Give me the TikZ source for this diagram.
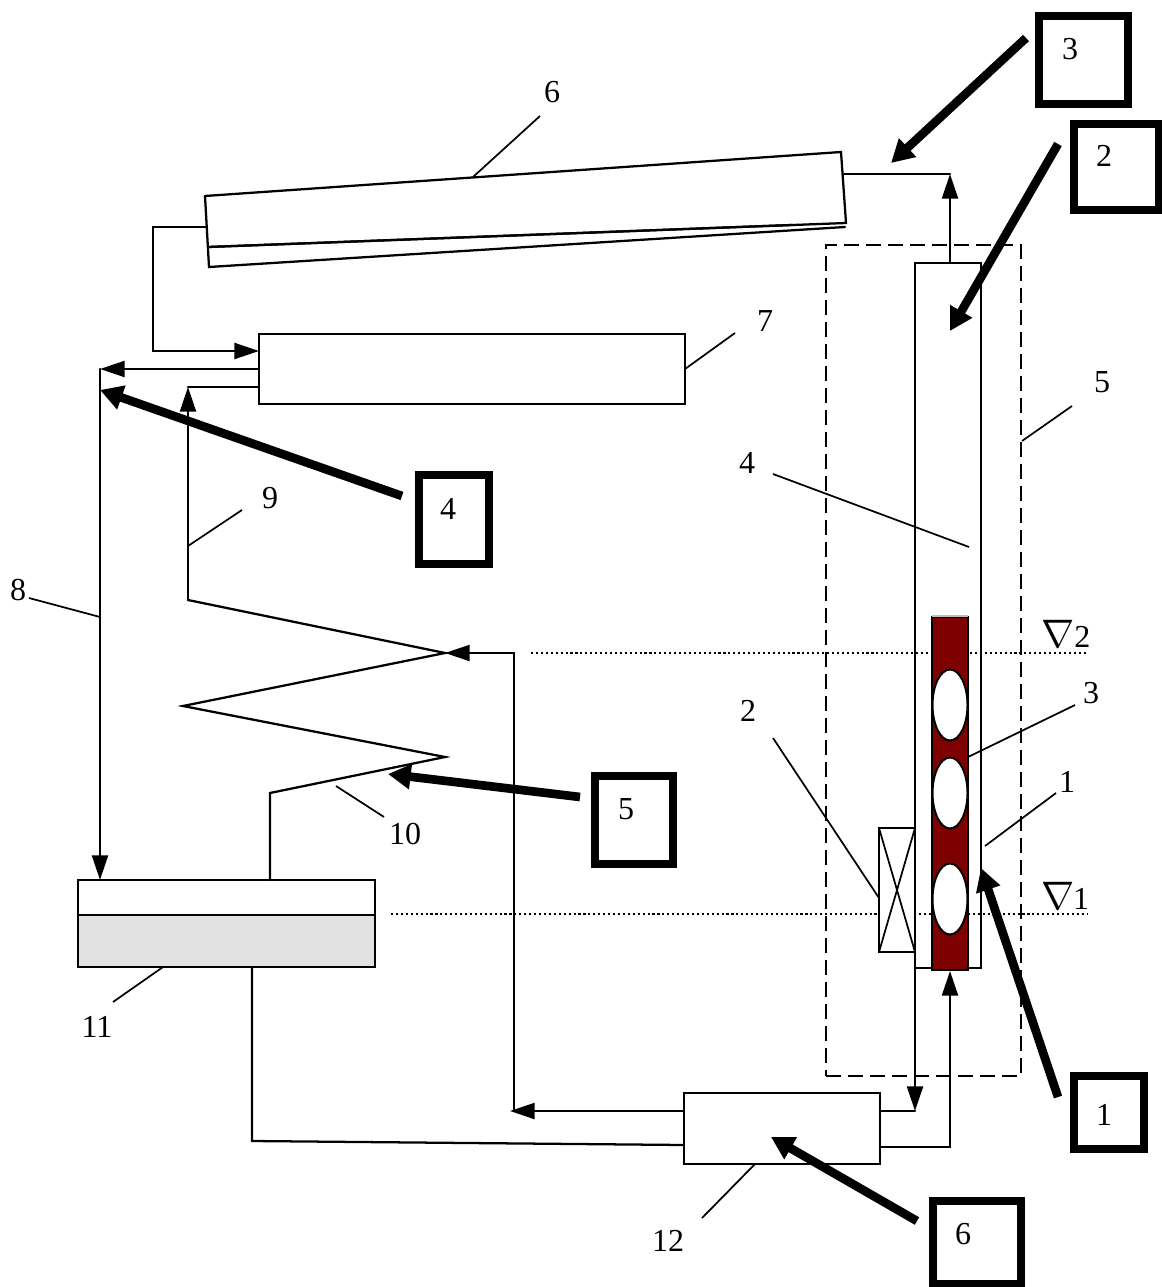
\documentclass[tikz,border=0pt]{standalone}
\usepackage{fontspec}
\usepackage{graphicx}
\setmainfont{Liberation Serif}
\usetikzlibrary{arrows.meta,shapes.geometric}
\def\u{0.75pt}
\definecolor{rodred}{HTML}{7F0000}
\definecolor{tankgrey}{HTML}{E2E2E2}
\tikzset{
  ln/.style={line width=1.7pt, line cap=round, line join=miter},
  leader/.style={line width=1.3pt},
  flow/.style={ln, -{Triangle[length=18.5pt,width=12pt]}},
  bigarrow/.style={line width=6.5pt, -{Triangle[length=17pt,width=18pt]}},
  numbox/.style={draw, line width=6pt, fill=white, minimum width=#1*\u, inner sep=0pt},
  unit/.style n args={2}{draw, ln, fill=white, minimum width=#1*\u, minimum height=#2*\u, inner sep=0pt, outer sep=0pt},
  lab/.style={font=\fontsize{24}{28}\selectfont, inner sep=0pt},
  hole/.style={draw, line width=1.5pt, fill=white, ellipse, minimum width=35*\u, minimum height=71*\u, inner sep=0pt},
  levelline/.style={line width=1.2pt, dash pattern=on 1.6pt off 2.1pt}
}
\begin{document}
\begin{tikzpicture}[x=0.75pt,y=-0.75pt]
\useasboundingbox (0,0) rectangle (1161,1287);
\fill[white] (0,0) rectangle (1161,1287);

% level lines
\coordinate (l2a) at (531,653); \coordinate (l2b) at (1088,653);
\coordinate (l1a) at (391,914); \coordinate (l1b) at (1088,914);
\draw[levelline] (l2a) -- (l2b);
\draw[levelline] (l1a) -- (l1b);

% collector 6
\coordinate (c1) at (205,196); \coordinate (c2) at (841,152);
\coordinate (c3) at (846,223); \coordinate (c4) at (209,267);
\coordinate (c5) at (208,247); \coordinate (c6) at (845,227);
\coordinate (c7) at (792,225);
\draw[ln] (c1) -- (c2) -- (c3) -- (c5);
\draw[ln] (c5) -- (c7);
\draw[ln] (c1) -- (c4) -- (c6);

% units
\node[unit={426}{70}] (b7) at (472,369) {};
\node[unit={196}{71}] (b12) at (782,1128.5) {};
\node[draw, ln, fill=tankgrey, minimum width=297*\u, minimum height=87*\u, inner sep=0pt, outer sep=0pt] (b11) at (226.5,923.5) {};
\fill[white] (b11.north west) rectangle (375,915);
\draw[ln] (b11.north west) rectangle (b11.south east);
\coordinate (t1) at (78,915); \coordinate (t2) at (375,915);
\draw[ln] (t1) -- (t2);

% dashed housing
\node[draw, line width=1.5pt, dash pattern=on 11pt off 5.5pt, minimum width=195*\u, minimum height=831*\u, inner sep=0pt, outer sep=0pt] (b5) at (923.5,660.5) {};

% tube 1
\node[draw, ln, minimum width=66*\u, minimum height=705*\u, inner sep=0pt, outer sep=0pt] (b1) at (948,615.5) {};
% fuel 3
\node[draw=black, line width=1pt, fill=rodred, minimum width=36*\u, minimum height=353*\u, inner sep=0pt, outer sep=0pt] (b3) at (950,793.5) {};
\coordinate (r1) at (932,616); \coordinate (r2) at (968,616);
\draw[line width=1pt, gray!50] (r1) -- (r2);
\node[hole] (h1) at (950,705) {};
\node[hole] (h2) at (950,793) {};
\node[hole] (h3) at (950,899) {};

% coil 2
\node[unit={36}{124}] (b2) at (897,890) {};
\draw[leader] (b2.north west) -- (b2.south east);
\draw[leader] (b2.north east) -- (b2.south west);

% piping
\coordinate (p1) at (844,174); \coordinate (p2) at (950,174); \coordinate (p3) at (950,263);
\draw[ln] (p1) -- (p2);
\draw[flow] (p3) -- (p2);
\coordinate (p4) at (206,227); \coordinate (p5) at (153,227); \coordinate (p6) at (153,351); \coordinate (p7) at (259,351);
\draw[flow] (p4) -- (p5) -- (p6) -- (p7);
\coordinate (p8) at (259,369); \coordinate (p9) at (100,369);
\draw[flow] (p8) -- (p9);
\coordinate (p10) at (259,387); \coordinate (p11) at (188,387); \coordinate (p12) at (188,600);
\draw[ln] (p10) -- (p11);
\draw[flow] (p12) -- (p11);
\coordinate (p13) at (100,880);
\draw[flow] (p9) -- (p13);
% zigzag 10
\coordinate (z1) at (445,653); \coordinate (z2) at (183,706); \coordinate (z3) at (445,757);
\coordinate (z4) at (270,793); \coordinate (z5) at (270,880);
\draw[ln] (p12) -- (z1) -- (z2) -- (z3) -- (z4) -- (z5);
% return line
\coordinate (q1) at (684,1111); \coordinate (q2) at (510,1111); \coordinate (q3) at (514,1111); \coordinate (q4) at (514,653);
\draw[flow] (q1) -- (q2);
\draw[ln] (q3) -- (q4);
\draw[flow] (q4) -- (z1);
% tank to pump
\coordinate (w1) at (252,967); \coordinate (w2) at (252,1141); \coordinate (w3) at (684,1145);
\draw[ln] (w1) -- (w2) -- (w3);
% pump to tube
\coordinate (e1) at (880,1111); \coordinate (e2) at (915,1111); \coordinate (e3) at (915,968);
\draw[ln] (e1) -- (e2);
\draw[flow] (e3) -- (e2);
\coordinate (e4) at (880,1147); \coordinate (e5) at (950,1147); \coordinate (e6) at (950,971);
\draw[flow] (e4) -- (e5) -- (e6);

% number boxes and thick arrows
\node[numbox=89, minimum height=88*\u] (n3) at (1083.5,60) {};
\node[lab] at (1070,49) {3};
\node[numbox=85, minimum height=86*\u] (n2) at (1116.5,167) {};
\node[lab] at (1104,156) {2};
\node[numbox=70, minimum height=89*\u] (n4) at (454,519.5) {};
\node[lab] at (448,509) {4};
\node[numbox=78, minimum height=88*\u] (n5) at (634,820) {};
\node[lab] at (626,809) {5};
\node[numbox=70, minimum height=73*\u] (n1) at (1109,1112.5) {};
\node[lab] at (1104,1115) {1};
\node[numbox=88, minimum height=83*\u] (n6) at (977,1242) {};
\node[lab] at (963,1234) {6};

\coordinate (s3) at (1026,38); \coordinate (a3) at (891,163);
\coordinate (s2) at (1058,144); \coordinate (a2) at (950,331);
\coordinate (s4) at (402,496); \coordinate (a4) at (100,390);
\coordinate (s5) at (580,797); \coordinate (a5) at (388,774);
\coordinate (s1) at (1058,1097); \coordinate (a1) at (981,868);
\coordinate (s6) at (917,1221); \coordinate (a6) at (771,1137);
\draw[bigarrow] (s3) -- (a3);
\draw[bigarrow] (s2) -- (a2);
\draw[bigarrow] (s4) -- (a4);
\draw[bigarrow] (s5) -- (a5);
\draw[bigarrow] (s1) -- (a1);
\draw[bigarrow] (s6) -- (a6);

% labels and leaders
\node[lab] (L6) at (552,92) {6};
\coordinate (d6a) at (540,116); \coordinate (d6b) at (473,177); \draw[leader] (d6a) -- (d6b);
\node[lab] (L7) at (765,321) {7};
\coordinate (d7a) at (735,333); \coordinate (d7b) at (685,369); \draw[leader] (d7a) -- (d7b);
\node[lab] (L5) at (1102,382) {5};
\coordinate (d5a) at (1072,406); \coordinate (d5b) at (1022,441); \draw[leader] (d5a) -- (d5b);
\node[lab] (L4) at (747,463) {4};
\coordinate (d4a) at (773,474); \coordinate (d4b) at (969,547); \draw[leader] (d4a) -- (d4b);
\node[lab] (L9) at (270,498) {9};
\coordinate (d9a) at (242,510); \coordinate (d9b) at (188,546); \draw[leader] (d9a) -- (d9b);
\node[lab] (L8) at (18,590) {8};
\coordinate (d8a) at (29,598); \coordinate (d8b) at (100,617); \draw[leader] (d8a) -- (d8b);
\node[lab] (L3) at (1091,693) {3};
\coordinate (d3a) at (1075,705); \coordinate (d3b) at (968,757); \draw[leader] (d3a) -- (d3b);
\node[lab] (L1) at (1067,782) {1};
\coordinate (d1a) at (1056,793); \coordinate (d1b) at (985,846); \draw[leader] (d1a) -- (d1b);
\node[lab] (L10) at (405,834) {10};
\coordinate (d10a) at (384,817); \coordinate (d10b) at (336,786); \draw[leader] (d10a) -- (d10b);
\node[lab] (L11) at (97,1027) {11};
\coordinate (d11a) at (113,1002); \coordinate (d11b) at (163,967); \draw[leader] (d11a) -- (d11b);
\node[lab] (L12) at (668,1241) {12};
\coordinate (d12a) at (702,1218); \coordinate (d12b) at (755,1164); \draw[leader] (d12a) -- (d12b);
\node[lab] (L2) at (748,711) {2};
\coordinate (d2a) at (773,738); \coordinate (d2b) at (879,898); \draw[leader] (d2a) -- (d2b);

% level marks
\node[lab, anchor=base west] (lev2) at (1041,647) {\scalebox{1.2}{$\nabla$}\kern0pt 2};
\node[lab, anchor=base west] (lev1) at (1041,909) {\scalebox{1.2}{$\nabla$}\kern-1pt 1};
\end{tikzpicture}
\end{document}
